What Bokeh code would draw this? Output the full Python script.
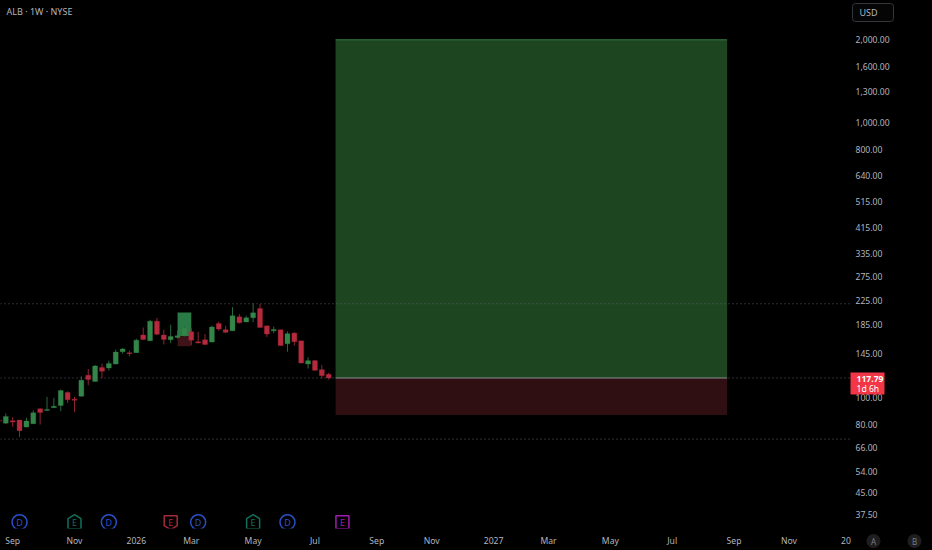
from datetime import datetime, timedelta
from bokeh.plotting import figure
from bokeh.embed import file_html
from bokeh.resources import INLINE
from bokeh.core.properties import value
from bokeh.models import (Range1d, LinearScale, FixedTicker, NumeralTickFormatter, Span, Label,
                          ColumnDataSource)

first_candle = datetime(2025, 8, 18)
opens = [82.8,80.7,82.3,82.8,78.1,80.3,91.0,89.7,91.9,93.5,104.3,98.6,101.1,120.5,114.3,128.5,128.1,132.4,146.7,145.6,145.6,168.7,160.8,189.6,168.7,162.2,165.4,167.8,173.4,159.6,162.2,159.1,185.9,176.4,174.8,196.5,188.4,194.9,210.7,182.3,174.8,176.4,156.9,171.5,160.8,132.4,136.2,126.3,121.5]
highs = [84.0,87.5,84.9,82.8,84.4,89.8,91.2,100.6,99.7,106.9,105.4,100.6,119.5,127.0,131.4,132.8,136.2,149.3,151.4,148.0,163.6,179.8,191.7,195.0,176.4,184.0,175.0,181.3,178.7,173.4,170.2,182.8,188.9,182.3,213.0,201.0,198.2,220.3,219.0,182.3,181.3,176.4,173.9,172.9,160.8,140.0,136.9,131.4,122.9]
lows = [81.0,80.3,78.3,71.8,77.9,80.1,79.8,89.5,91.7,89.2,95.4,88.5,100.8,110.8,114.3,117.5,125.3,132.1,144.4,141.2,145.6,162.2,160.8,168.4,156.0,157.8,164.0,166.8,155.3,157.4,155.3,158.7,174.8,171.5,174.8,185.9,187.9,187.9,179.8,165.9,171.5,154.5,146.7,154.5,133.1,127.5,125.3,117.1,116.2]
closes = [82.0,85.4,81.4,75.8,82.1,88.0,88.2,90.5,93.0,106.0,98.1,97.8,115.6,116.2,130.2,124.6,133.1,146.3,150.1,144.4,161.7,162.6,189.6,169.8,162.6,166.8,167.8,178.7,161.7,157.8,156.0,180.4,177.4,172.6,198.2,187.0,194.9,203.2,179.8,170.2,176.9,154.5,170.7,159.6,133.5,136.2,125.6,120.1,117.79]

price_ticks = [2000,1600,1300,1000,800,640,515,415,335,275,225,185,145,100,80,66,54,45,37.5]
time_tick_dates = [datetime(2025,9,1),datetime(2025,11,3),datetime(2026,1,5),datetime(2026,3,2),datetime(2026,5,4),datetime(2026,7,6),datetime(2026,9,7),datetime(2026,11,2),datetime(2027,1,4),datetime(2027,3,1),datetime(2027,5,3),datetime(2027,7,5),datetime(2027,9,6),datetime(2027,11,1),datetime(2027,12,29)]
time_tick_labels = ["Sep","Nov","2026","Mar","May","Jul","Sep","Nov","2027","Mar","May","Jul","Sep","Nov","20"]

dividend_dates = [datetime(2025,9,8),datetime(2025,12,8),datetime(2026,3,9),datetime(2026,6,8)]
earnings_up_dates = [datetime(2025,11,3),datetime(2026,5,4)]
earnings_down_dates = [datetime(2026,2,9)]
earnings_next_dates = [datetime(2026,8,3)]

pos_start, pos_end = datetime(2026,7,27), datetime(2027,9,6) - timedelta(days=7)
pos_top, pos_entry, pos_bottom = 2000, 117.79, 86.4
old_start, old_end = datetime(2026,2,16), datetime(2026,3,2)
old_top, old_entry, old_bottom = 204, 167.2, 153.8
levels = [219.3, 70.6]

BG = "#000000"; UP = "#348549"; DOWN = "#b52a3d"; TXT = "#b2b5be"
FONT = "Noto Sans"
ORIGIN = datetime(2025, 8, 25)
BAR_PX = 6.87
bar = lambda d: (d - ORIGIN).days / 7

p = figure(frame_width=850, frame_height=528, output_backend="svg", toolbar_location=None,
           y_axis_type="log", y_axis_location="right",
           x_range=Range1d(-5.3/BAR_PX, (850-5.3)/BAR_PX),
           y_range=Range1d(33.4, 2779),
           background_fill_color=BG, border_fill_color=BG, outline_line_color=None,
           min_border_left=0, min_border_right=82, min_border_top=0, min_border_bottom=22)
p.grid.visible = False
p.extra_y_ranges = {"px": Range1d(528, 0)}
p.extra_y_scales = {"px": LinearScale()}

ya = p.yaxis[0]
ya.ticker = FixedTicker(ticks=price_ticks)
ya.formatter = NumeralTickFormatter(format="0,0.00")
xa = p.xaxis[0]
xa.ticker = FixedTicker(ticks=[bar(d) for d in time_tick_dates])
xa.major_label_overrides = {bar(d): t for d, t in zip(time_tick_dates, time_tick_labels)}
for a in (xa, ya):
    a.axis_line_color = None
    a.major_tick_line_color = None
    a.minor_tick_line_color = None
    a.major_tick_out = 0
    a.major_tick_in = 0
    a.major_label_text_color = TXT
    a.major_label_text_font = FONT
    a.major_label_text_font_size = "8.6px"
    a.major_label_standoff = 6
ya.major_label_standoff = 5

# position tool
p.quad(left=[bar(pos_start)], right=[bar(pos_end)], top=[pos_top], bottom=[pos_entry], fill_color="#1d4620", line_color=None)
p.quad(left=[bar(pos_start)], right=[bar(pos_end)], top=[pos_entry], bottom=[pos_bottom], fill_color="#2f0f12", line_color=None)
p.segment(x0=[bar(pos_start)], x1=[bar(pos_end)], y0=[pos_top], y1=[pos_top], line_color="#3a7a42", line_width=1)
p.quad(left=[bar(old_start)], right=[bar(old_end)], top=[old_top], bottom=[old_entry], fill_color="#297a44", line_color=None)
p.quad(left=[bar(old_start)], right=[bar(old_end)], top=[old_entry], bottom=[old_bottom], fill_color="#3f1218", line_color=None)

for lv in levels + [closes[-1]]:
    p.add_layout(Span(location=lv, dimension="width", line_color="#5a5d66", line_width=1, line_dash="1 3"))
p.segment(x0=[bar(pos_start)], x1=[bar(pos_end)], y0=[pos_entry], y1=[pos_entry], line_color="#a8acb0", line_width=0.8)

# candles
dates = [first_candle + timedelta(days=7*i) for i in range(len(closes))]
up = [c >= o for o, c in zip(opens, closes)]
src = ColumnDataSource(dict(x=[bar(d) for d in dates], o=opens, h=highs, l=lows, c=closes,
                            top=[max(a, b) for a, b in zip(opens, closes)],
                            bot=[min(a, b) for a, b in zip(opens, closes)],
                            col=[UP if u else DOWN for u in up],
                            wick=["#27693a" if u else "#8e2334" for u in up]))
p.segment(x0="x", x1="x", y0="h", y1="l", line_color="wick", line_width=1, source=src)
p.vbar(x="x", width=0.72, top="top", bottom="bot", fill_color="col", line_color="col", line_width=0.3, source=src)

# events row
ROW = 521.7
D = "#2a50c8"
p.scatter([bar(d) for d in dividend_dates], [ROW]*4, size=15, marker="circle", fill_color=BG, line_color=D, line_width=1.5, y_range_name="px")
p.text([bar(d) for d in dividend_dates], [ROW+0.3]*4, text=["D"]*4, text_color=D, text_font=value(FONT), text_font_size="9px",
       text_align="center", text_baseline="middle", y_range_name="px")

def tag(dates_, color, kind):
    xs, ys = [], []
    for d in dates_:
        c = bar(d)
        if kind == "up":
            dx = [-6.5, 0, 6.5, 6.5, -6.5]; dy = [-3.5, -7.5, -3.5, 6.5, 6.5]
        elif kind == "down":
            dx = [-6.5, 6.5, 6.5, 0, -6.5]; dy = [-6.5, -6.5, 3.5, 7.5, 3.5]
        else:
            dx = [-6.5, 6.5, 6.5, -6.5]; dy = [-6.5, -6.5, 6.5, 6.5]
        xs.append([c + v/BAR_PX for v in dx]); ys.append([ROW + v for v in dy])
    p.patches(xs, ys, fill_color=BG, line_color=color, line_width=1.5, y_range_name="px")
    p.text([bar(d) for d in dates_], [ROW+0.3]*len(dates_), text=["E"]*len(dates_), text_color=color, text_font=value(FONT),
           text_font_size="9px", text_align="center", text_baseline="middle", y_range_name="px")

tag(earnings_up_dates, "#11705a", "up")
tag(earnings_down_dates, "#a62a3a", "down")
tag(earnings_next_dates, "#a21caf", "box")

p.add_layout(Label(x=6, y=528-11, x_units="screen", y_units="screen", text="ALB · 1W · NYSE", text_color=TXT, text_font=FONT,
                   text_font_size="9px", text_baseline="middle"))

# price-scale chrome sits over the axis area: a transparent figure the size of the page
ui = figure(width=932, height=550, output_backend="svg", toolbar_location=None,
            x_range=Range1d(0, 932), y_range=Range1d(550, 0), x_axis_location=None, y_axis_location=None,
            background_fill_color=None, border_fill_color=None, outline_line_color=None,
            min_border=0, styles={"position": "absolute", "left": "0", "top": "0"})
ui.grid.visible = False
ui.quad(left=[850], right=[884], top=[372], bottom=[394], fill_color="#f23645", line_color=None)
ui.quad(left=[852], right=[893], top=[3], bottom=[21], fill_color="#050505", line_color="#34363c", line_width=1, border_radius=3)
ui.text([856], [378], text=["117.79"], text_color="#ffffff", text_font=value(FONT), text_font_size="8.6px", text_font_style="bold", text_baseline="middle")
ui.text([856], [388.5], text=["1d 6h"], text_color="#ffffff", text_font=value(FONT), text_font_size="8.6px", text_baseline="middle")
ui.text([859], [12], text=["USD"], text_color=TXT, text_font=value(FONT), text_font_size="9px", text_baseline="middle")
ui.scatter([873, 914], [540.5, 540.5], size=14, marker="circle", fill_color="#1e1e1e", line_color=None)
ui.text([873, 914], [540.5, 540.5], text=["A", "B"], text_color="#787b86", text_font=value(FONT), text_font_size="8px",
        text_align="center", text_baseline="middle")

html = file_html([p, ui], INLINE).replace("<body>", '<body style="margin:0;background:#000;overflow:hidden">')
open("out.html", "w").write(html)
